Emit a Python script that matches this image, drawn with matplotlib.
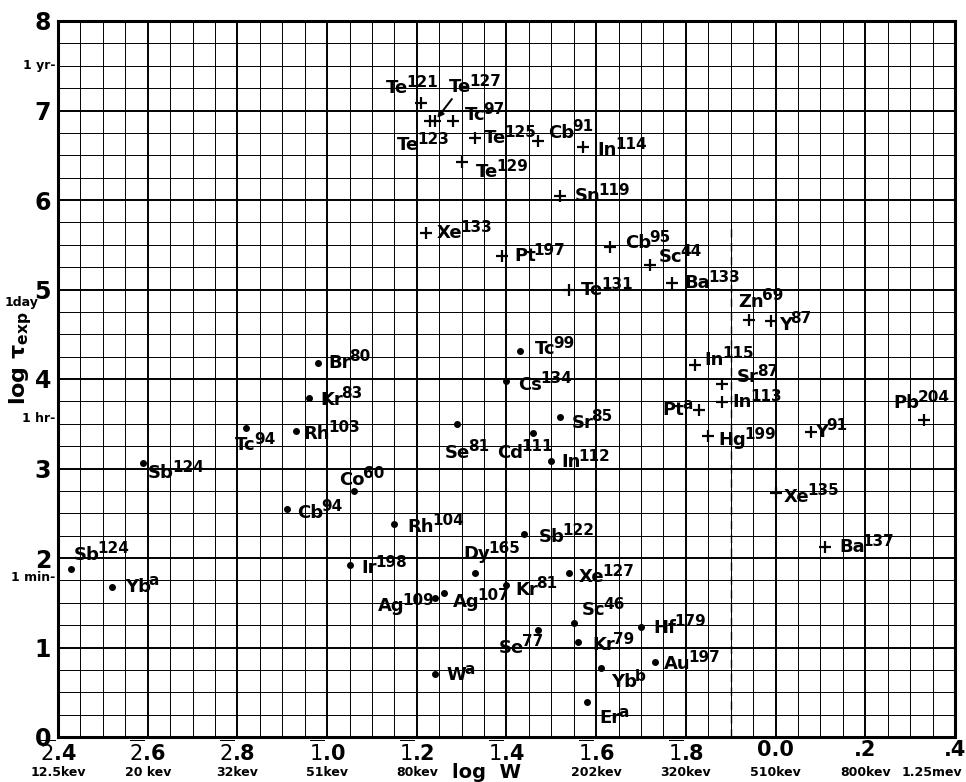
import matplotlib
matplotlib.use("Agg")
import matplotlib.pyplot as plt
import numpy as np

plt.rcParams['font.family'] = ['DejaVu Sans']
plt.rcParams['mathtext.fontset'] = 'dejavusans'

# isotopes plotted with "+"
cross_sym = ['Te', 'Te', 'Te', 'Tc', 'Te', 'Te', 'Cb', 'In', 'Sn', 'Xe', 'Pt', 'Te', 'Cb',
             'Sc', 'Ba', 'Zn', 'Y', 'In', 'Sr', 'In', 'Pt', 'Hg', 'Y', 'Pb', 'Xe', 'Ba']
cross_mass = ['121', '123', '127', '97', '125', '129', '91', '114', '119', '133', '197', '131', '95',
              '44', '133', '69', '87', '115', '87', '113', 'a', '199', '91', '204', '135', '137']
cross_x = [-0.79, -0.77, -0.76, -0.72, -0.67, -0.70, -0.53, -0.43, -0.48, -0.78, -0.61, -0.46, -0.37,
           -0.28, -0.23, -0.06, -0.01, -0.18, -0.12, -0.12, -0.17, -0.15, 0.08, 0.33, 0.00, 0.11]
cross_y = [7.08, 6.88, 6.88, 6.88, 6.69, 6.42, 6.66, 6.59, 6.04, 5.63, 5.37, 4.99, 5.47,
           5.27, 5.07, 4.66, 4.65, 4.16, 3.94, 3.74, 3.65, 3.36, 3.41, 3.54, 2.73, 2.12]

# isotopes plotted with dots
dot_sym = ['Br', 'Kr', 'Rh', 'Tc', 'Sb', 'Cb', 'Co', 'Sb', 'Yb', 'Tc', 'Cs', 'Se', 'Cd', 'Sr', 'In', 'Rh',
           'Sb', 'Ir', 'Dy', 'Kr', 'Xe', 'Ag', 'Ag', 'Sc', 'Se', 'Kr', 'Hf', 'Au', 'W', 'Yb', 'Er']
dot_mass = ['80', '83', '103', '94', '124', '94', '60', '124', 'a', '99', '134', '81', '111', '85', '112', '104',
            '122', '198', '165', '81', '127', '109', '107', '46', '77', '79', '179', '197', 'a', 'b', 'a']
dot_x = [-1.02, -1.04, -1.07, -1.18, -1.41, -1.09, -0.94, -1.57, -1.48, -0.57, -0.60, -0.71, -0.54, -0.48, -0.50, -0.85,
         -0.56, -0.95, -0.67, -0.60, -0.46, -0.76, -0.74, -0.45, -0.53, -0.44, -0.30, -0.27, -0.76, -0.39, -0.42]
dot_y = [4.18, 3.79, 3.42, 3.45, 3.06, 2.55, 2.75, 1.88, 1.68, 4.31, 3.98, 3.50, 3.40, 3.58, 3.08, 2.38,
         2.27, 1.92, 1.83, 1.70, 1.83, 1.55, 1.61, 1.27, 1.20, 1.06, 1.23, 0.84, 0.70, 0.77, 0.39]

x_ticks = [-1.6, -1.4, -1.2, -1.0, -0.8, -0.6, -0.4, -0.2, 0.0, 0.2, 0.4]
x_ticklabels = [r'$\overline{2}$.4', r'$\overline{2}$.6', r'$\overline{2}$.8', r'$\overline{1}$.0',
                r'$\overline{1}$.2', r'$\overline{1}$.4', r'$\overline{1}$.6', r'$\overline{1}$.8',
                '0.0', '.2', '.4']
energy_labels = ['12.5kev', '20 kev', '32kev', '51kev', '80kev', '', '202kev', '320kev',
                 '510kev', '800kev', '1.25mev']
time_labels = ['1 yr-', '1day', '1 hr-', '1 min-']
time_values = [7.5, 4.85, 3.56, 1.78]
cutoff_x = -0.1
cutoff_top = 5.7

# label offsets in pixels (dx, dy)
cross_off = [(-35, 15), (-33, -24), (14, 34), (12, 6), (9, 0), (14, -10), (10, 8), (15, -3), (14, 0),
             (11, 0), (12, 0), (12, 0), (15, 4), (9, 8), (12, 0), (-10, 18), (8, -4), (10, 5), (15, 7),
             (11, 0), (-37, 0), (10, -4), (4, 0), (-30, 17), (8, -4), (14, 0)]
dot_off = [(10, 0), (11, -2), (8, -3), (-11, -17), (5, -10), (10, -4), (-15, 11), (2, 14), (13, 0),
           (15, 2), (12, -4), (-12, -29), (-36, -20), (11, -6), (10, -1), (13, -3), (14, -3), (12, -3),
           (-12, 19), (9, -5), (9, -4), (-57, -8), (9, -9), (8, 13), (-39, -18), (14, -3), (12, -1),
           (9, -2), (12, -1), (10, -14), (12, -16)]

fig = plt.figure(figsize=(9.66, 7.82), dpi=100)
ax = fig.add_axes([58 / 966, 1 - 737 / 782, 897 / 966, 716 / 782])
ax.set_xlim(-1.6, 0.4)
ax.set_ylim(0, 8)

ax.set_xticks(x_ticks)
ax.set_xticklabels(x_ticklabels, fontsize=15, fontweight='bold')
ax.set_xticks(np.arange(-1.6, 0.401, 0.05), minor=True)
ax.set_yticks(range(9))
ax.set_yticklabels([str(i) for i in range(9)], fontsize=17, fontweight='bold')
ax.set_yticks(np.arange(0, 8.01, 0.25), minor=True)
ax.tick_params(which='both', length=0)
ax.tick_params(axis='x', pad=2)
ax.tick_params(axis='y', pad=5)
ax.grid(which='major', color='black', lw=1.4)
ax.grid(which='minor', color='black', lw=0.7)
ax.set_axisbelow(True)
for s in ax.spines.values():
    s.set_linewidth(2.2)

ax.plot([cutoff_x, cutoff_x], [0, cutoff_top], color='black', lw=1, ls=(0, (6, 4)))

ax.plot(cross_x, cross_y, ls='none', marker='+', ms=9, mew=1.6, color='black')
ax.plot(dot_x, dot_y, ls='none', marker='o', ms=4, color='black')


def put_label(x, y, sym, mass, off, arrow=False):
    kw = {}
    if arrow:
        kw['arrowprops'] = dict(arrowstyle='-|>', color='black', lw=1.4, mutation_scale=9,
                                shrinkA=0, shrinkB=3, relpos=(0.3, 0.1))
    t = ax.annotate(sym, xy=(x, y), xytext=off, textcoords='offset pixels',
                    ha='left', va='center', fontsize=13, fontweight='bold', **kw)
    ax.annotate(mass, xy=(1, 1), xycoords=t, xytext=(-2, -3), textcoords='offset pixels',
                ha='left', va='center', fontsize=11, fontweight='bold')


for i in range(len(cross_sym)):
    put_label(cross_x[i], cross_y[i], cross_sym[i], cross_mass[i], cross_off[i],
              arrow=(cross_sym[i] == 'Te' and cross_mass[i] == '127'))
for i in range(len(dot_sym)):
    put_label(dot_x[i], dot_y[i], dot_sym[i], dot_mass[i], dot_off[i])

# energy labels under the x ticks
tr = ax.get_xaxis_transform()
for i, (xv, lab) in enumerate(zip(x_ticks, energy_labels)):
    last = i == len(x_ticks) - 1
    ax.text(xv + (0.015 if last else 0), -0.05, lab, transform=tr, ha='right' if last else 'center',
            va='center', fontsize=9, fontweight='bold')
ax.text(-0.645, -0.05, 'log  W', transform=tr, ha='center', va='center', fontsize=14, fontweight='bold')

# time marks on the left
ty = ax.get_yaxis_transform()
for v, lab in zip(time_values, time_labels):
    ax.text(-0.003 if lab.endswith('-') else -0.022, v, lab, transform=ty, ha='right', va='center',
            fontsize=9, fontweight='bold')

fig.text(21 / 966, 1 - 358 / 782, r'log $\mathbf{\tau_{exp}}$', rotation=90, ha='center', va='center',
         fontsize=16, fontweight='bold')

fig.savefig('out.png', dpi=100)
